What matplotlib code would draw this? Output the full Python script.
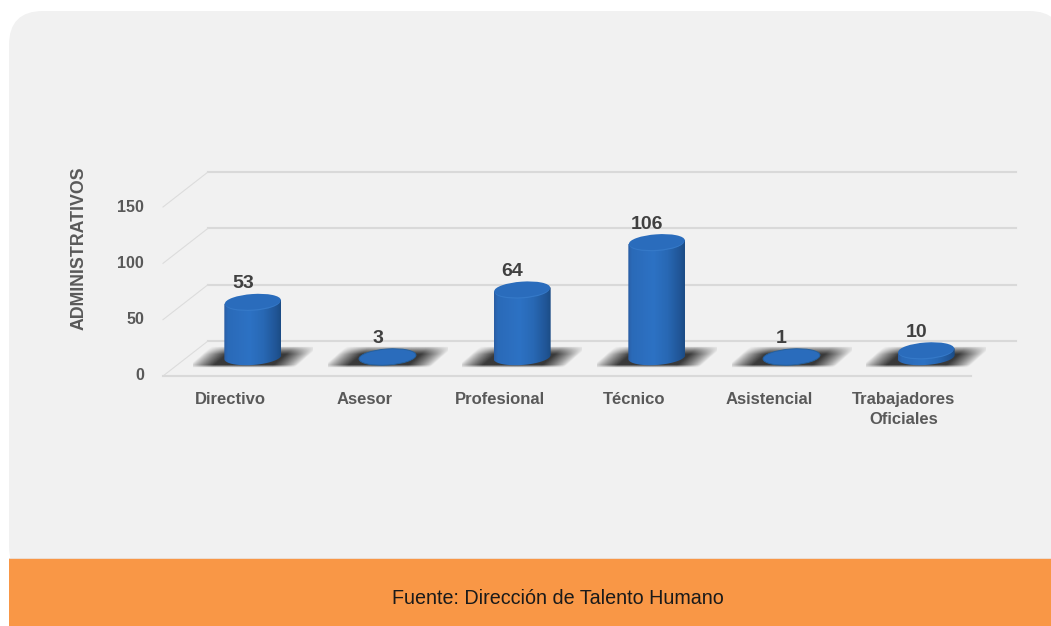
import numpy as np
from matplotlib import pyplot as plt
from matplotlib.patches import Ellipse, FancyBboxPatch, Rectangle
from matplotlib.path import Path
from matplotlib.transforms import IdentityTransform, ScaledTranslation

categories = ['Directivo', 'Asesor', 'Profesional', 'Técnico', 'Asistencial', 'Trabajadores\nOficiales']
values = [53, 3, 64, 106, 1, 10]
y_ticks = [0, 50, 100, 150]
y_title = 'ADMINISTRATIVOS'
source = 'Fuente: Dirección de Talento Humano'

W, H = 1051, 626
plt.rcParams['font.family'] = ['Liberation Sans', 'DejaVu Sans']

fig = plt.figure(figsize=(W / 100, H / 100), dpi=100, facecolor='white')
ax = fig.add_axes([0, 0, 1, 1])
ax.axis('off')

# front floor edge: x=163..971 is the 6 category slots, y=376 is 0, y=207 is 150
slot = (971 - 163) / 6
unit = (376 - 207) / 150
ax.set_xlim((0 - 163) / slot - 0.5, (W - 163) / slot - 0.5)
ax.set_ylim((376 - H) / unit, 376 / unit)

# panel and footer, the panel runs off the right edge
ax.add_patch(FancyBboxPatch((9, 46), 1054, 569, boxstyle='round,pad=0,rounding_size=34',
                            transform=IdentityTransform(), fc='#f1f1f1', ec='none', zorder=0))
ax.add_patch(Rectangle((9, 0), 1042, 68, transform=IdentityTransform(), fc='#ecdccf', ec='none', zorder=1))
ax.add_patch(Rectangle((9, 0), 1042, 67, transform=IdentityTransform(), fc='#f99746', ec='none', zorder=1))
ax.text(558 / W, 28 / H, source, transform=ax.transAxes, ha='center', va='center',
        fontsize=14.2, color='#1a1a1a', zorder=2)

# depth shifts of the 3d floor, in inches
back = ax.transData + ScaledTranslation(0.45, 0.35, fig.dpi_scale_trans)
mid = ax.transData + ScaledTranslation(0.225, 0.145, fig.dpi_scale_trans)

grid = '#d9d9d9'
x0, x1 = -0.5, 5.5
for v in y_ticks:
    ax.plot([x0, x1], [v, v], transform=back, color=grid, lw=1.5, zorder=2)
    p0 = ax.transData.transform((x0, v))
    p1 = back.transform((x0, v))
    ax.plot([p0[0], p1[0]], [p0[1], p1[1]], transform=IdentityTransform(), color='#dcdcdc', lw=0.8, zorder=2)
    ax.annotate(str(v), (x0, v), xytext=(-19, 0), textcoords='offset pixels', ha='right', va='center',
                fontsize=11.5, fontweight='bold', color='#595959', zorder=3)
ax.plot([x0, x1], [0, 0], color=grid, lw=1.5, zorder=2)

for i, name in enumerate(categories):
    ax.annotate(name, (i, 0), xytext=(0, -16), textcoords='offset pixels', ha='center', va='top',
                fontsize=12, fontweight='bold', color='#595959', linespacing=1.4, zorder=3)

ax.text(79 / W, 1 - 248 / H, y_title, transform=ax.transAxes, rotation=90, ha='center', va='center',
        fontsize=12.8, fontweight='bold', color='#595959', zorder=3)

# cylinders
half_w = 28.5
half_h = 8.0
tilt = 4
floor = 4

# soft shadow on the floor
shadow_x = np.arange(-60, 61)
shadow_y = np.arange(-13, 14)
sx, sy = np.meshgrid(shadow_x, shadow_y)
skew = sx - 1.1 * sy
edge_x = np.clip((54 - np.abs(skew)) / 24, 0, 1)
edge_top = np.clip((11 - sy) / 8, 0, 1)
edge_low = np.clip((sy + 11) / 3, 0, 1)
shadow = np.zeros(sx.shape + (4,))
shadow[..., :3] = 0.2
shadow[..., 3] = 0.97 * edge_x ** 0.8 * edge_top ** 0.7 * edge_low

body = np.array([0.00, 0.06, 0.25, 0.45, 0.7, 0.92, 1.00])
body_r = np.array([0x2a, 0x2a, 0x2c, 0x2d, 0x28, 0x20, 0x1c]) / 255
body_g = np.array([0x5e, 0x6a, 0x6e, 0x72, 0x68, 0x55, 0x4c]) / 255
body_b = np.array([0xa4, 0xb8, 0xbe, 0xc4, 0xb4, 0x96, 0x86]) / 255
t = np.linspace(0, 1, 60)
body_img = np.dstack([np.interp(t, body, body_r), np.interp(t, body, body_g), np.interp(t, body, body_b)])

for i, v in enumerate(values):
    cx, cy0 = mid.transform((i, floor))
    cx, cy1 = mid.transform((i, max(v, floor)))
    ax.imshow(shadow, extent=(cx - 60, cx + 60, cy0 - 13, cy0 + 13), transform=IdentityTransform(),
              origin='lower', aspect='auto', zorder=4, interpolation='bilinear')

    # side wall between the two end ellipses
    if cy1 > cy0:
        theta = np.linspace(0, np.pi, 40)
        dy = half_w * np.tan(np.radians(tilt))
        top_x = cx + half_w * np.cos(theta)
        low_x = cx - half_w * np.cos(theta)
        top_y = cy1 + np.cos(theta) * dy
        low_y = cy0 - half_h * np.sin(theta) - np.cos(theta) * dy
        side = Path(np.column_stack([np.r_[top_x, low_x], np.r_[top_y, low_y]]))
        im = ax.imshow(body_img, extent=(cx - half_w, cx + half_w, cy0 - 12, cy1 + 12),
                       transform=IdentityTransform(), aspect='auto', zorder=5, interpolation='bilinear')
        im.set_clip_path(side, IdentityTransform())
        ax.add_patch(Ellipse((cx, cy1 - 1), 2 * half_w - 2, 2 * half_h, angle=tilt, transform=IdentityTransform(),
                             fc='#3579c8', ec='none', zorder=6))
        ax.add_patch(Ellipse((cx, cy1), 2 * half_w - 1, 2 * half_h - 0.5, angle=tilt, transform=IdentityTransform(),
                             fc='#2a6cbc', ec='none', zorder=6.5))
    else:
        ax.add_patch(Ellipse((cx, cy0), 2 * half_w, 2 * half_h, angle=tilt, transform=IdentityTransform(),
                             fc='#2a6cbc', ec='#24609f', lw=0.7, zorder=6))

    ax.annotate(str(v), (i, max(v, floor)), xycoords=mid, xytext=(-10, 18), textcoords='offset pixels',
                ha='center', va='center', fontsize=14, fontweight='bold', color='#404040', zorder=7)

ax.set_xlim((0 - 163) / slot - 0.5, (W - 163) / slot - 0.5)
ax.set_ylim((376 - H) / unit, 376 / unit)

plt.savefig('out.png', dpi=100)
